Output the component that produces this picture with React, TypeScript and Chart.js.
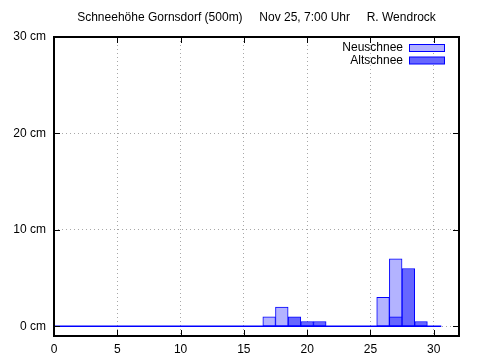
import React, { useEffect, useRef } from 'react';
import { Chart, registerables } from 'chart.js';

Chart.register(...registerables);

const titleText = 'Schneehöhe Gornsdorf (500m)     Nov 25, 7:00 Uhr     R. Wendrock';
const seriesLabels = ['Neuschnee', 'Altschnee'];
const days = [17, 18, 19, 20, 21, 26, 27, 28, 29];
const neuschnee = [1, 2, 0, 0, 0, 3, 7, 0, 0];
const altschnee = [0, 0, 1, 0.5, 0.5, 0, 1, 6, 0.5];
const baselineX = [0, 30.6];
const xTicks = [0, 5, 10, 15, 20, 25, 30];
const yTicks = [0, 10, 20, 30];

const FONT = "'Liberation Sans', Arial, sans-serif";
const NEU_FILL = '#b3b3ff';
const ALT_FILL = '#6666ff';
const BLUE = '#0000ff';

const framePlugin = {
  id: 'gnuFrame',
  afterDraw(chart: any) {
    const ctx = chart.ctx;
    const { left, right, top, bottom } = chart.chartArea;
    const xs = chart.scales.x;
    const ys = chart.scales.y;
    ctx.save();
    ctx.strokeStyle = '#000';
    ctx.lineWidth = 1;
    ctx.beginPath();
    xTicks.forEach((v) => {
      const px = Math.round(xs.getPixelForValue(v)) + 0.5;
      ctx.moveTo(px, bottom);
      ctx.lineTo(px, bottom - 6);
      ctx.moveTo(px, top);
      ctx.lineTo(px, top + 6);
    });
    yTicks.forEach((v) => {
      const py = Math.round(ys.getPixelForValue(v)) + 0.5;
      ctx.moveTo(left, py);
      ctx.lineTo(left + 6, py);
      ctx.moveTo(right, py);
      ctx.lineTo(right - 6, py);
    });
    ctx.stroke();
    ctx.lineWidth = 2;
    ctx.strokeRect(left, top, right - left, bottom - top);

    // title
    ctx.fillStyle = '#000';
    ctx.font = `12px ${FONT}`;
    ctx.textAlign = 'center';
    ctx.textBaseline = 'middle';
    ctx.fillText(titleText, (left + right) / 2, 18);

    // legend
    const fills = [NEU_FILL, ALT_FILL];
    ctx.textAlign = 'right';
    seriesLabels.forEach((lab, i) => {
      const cy = 48 + i * 12.5;
      ctx.fillStyle = '#000';
      ctx.fillText(lab, 403, cy);
      ctx.fillStyle = fills[i];
      ctx.fillRect(409.5, cy - 3.5, 35, 7);
      ctx.strokeStyle = BLUE;
      ctx.lineWidth = 1;
      ctx.strokeRect(409.5, cy - 3.5, 35, 7);
    });
    ctx.restore();
  },
};

export default function App() {
  const ref = useRef<HTMLCanvasElement>(null);
  useEffect(() => {
    document.body.style.margin = '0';
    Chart.defaults.font.family = FONT;
    Chart.defaults.font.size = 12;
    Chart.defaults.color = '#000';
    const chart = new Chart(ref.current as HTMLCanvasElement, {
      type: 'bar',
      data: {
        datasets: [
          {
            label: seriesLabels[1],
            data: days.map((d, i) => ({ x: d, y: altschnee[i] })),
            backgroundColor: ALT_FILL,
            borderColor: BLUE,
            borderWidth: 1,
            borderSkipped: false,
            grouped: false,
            barPercentage: 1,
            categoryPercentage: 1,
          } as any,
          {
            label: seriesLabels[0],
            data: days.map((d, i) => ({ x: d, y: neuschnee[i] })),
            backgroundColor: NEU_FILL,
            borderColor: BLUE,
            borderWidth: 1,
            borderSkipped: false,
            grouped: false,
            barPercentage: 1,
            categoryPercentage: 1,
          } as any,
          {
            type: 'line',
            label: 'baseline',
            data: baselineX.map((x) => ({ x, y: 0 })),
            borderColor: BLUE,
            borderWidth: 1.5,
            pointRadius: 0,
            fill: false,
          } as any,
        ],
      },
      options: {
        animation: false,
        responsive: false,
        layout: { padding: { top: 37, right: 21, left: 0, bottom: 0 } },
        plugins: {
          legend: { display: false },
          tooltip: { enabled: false },
          title: { display: false },
        },
        scales: {
          x: {
            type: 'linear',
            min: 0,
            max: 32,
            offset: false,
            afterBuildTicks: (s: any) => {
              s.ticks = xTicks.map((v) => ({ value: v }));
            },
            afterFit: (s: any) => {
              s.height = 24;
            },
            ticks: { padding: 6, maxRotation: 0, autoSkip: false, font: { size: 12 } },
            grid: { color: '#a8a8a8', lineWidth: 1, drawTicks: false, offset: false },
            border: { display: false, dash: [1, 3] },
          },
          y: {
            type: 'linear',
            min: -1,
            max: 30,
            afterBuildTicks: (s: any) => {
              s.ticks = yTicks.map((v) => ({ value: v }));
            },
            afterFit: (s: any) => {
              s.width = 54;
            },
            ticks: { padding: 8, callback: (v: any) => `${v} cm`, font: { size: 12 } },
            grid: { color: '#a8a8a8', lineWidth: 1, drawTicks: false, offset: false },
            border: { display: false, dash: [1, 3] },
          },
        },
      } as any,
      plugins: [framePlugin],
    });
    return () => chart.destroy();
  }, []);
  return <canvas ref={ref} width={480} height={360} style={{ display: 'block' }} />;
}
